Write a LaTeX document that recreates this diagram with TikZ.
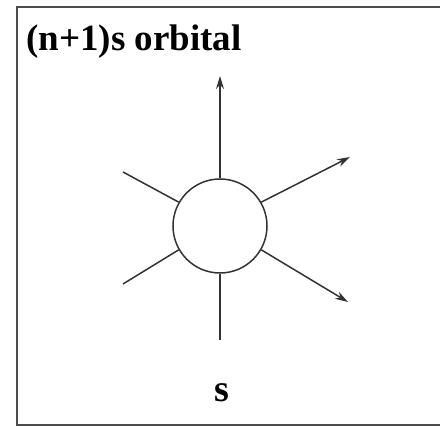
\documentclass[tikz,border=0pt]{standalone}
\usepackage{fontspec}
\setmainfont{Liberation Serif}
\usetikzlibrary{arrows.meta}
\begin{document}
\begin{tikzpicture}[x=1pt,y=-1pt,
  frame/.style={draw=black!70,line width=2pt},
  spoke/.style={draw=black!80,line width=1.5pt},
  arr/.style={spoke,-{Stealth[length=13pt,width=8pt]}},
  orb/.style={circle,draw=black!80,line width=1.5pt,minimum size=94pt,inner sep=0pt}]
\useasboundingbox (0,0) rectangle (440,427);
\draw[frame] (450,7.5) -- (16.5,7.5) -- (16.5,425) -- (450,425);
\node[anchor=west,font=\bfseries\fontsize{37}{40}\selectfont,inner sep=0pt] (title) at (26,42) {(n+1)s orbital};
\node[orb] (c) at (220,226) {};
\coordinate (up) at (220,76);
\coordinate (dn) at (220,340);
\coordinate (ul) at (123,172);
\coordinate (ll) at (123,284);
\coordinate (ur) at (350,157);
\coordinate (lr) at (348,302);
\draw[arr] (c.90) -- (up);
\draw[spoke] (c.270) -- (dn);
\draw[spoke] (c.150) -- (ul);
\draw[spoke] (c.210) -- (ll);
\draw[arr] (c.30) -- (ur);
\draw[arr] (c.-30) -- (lr);
\node[font=\bfseries\fontsize{38}{40}\selectfont,inner sep=0pt] (s) at (222,393) {s};
\end{tikzpicture}
\end{document}
